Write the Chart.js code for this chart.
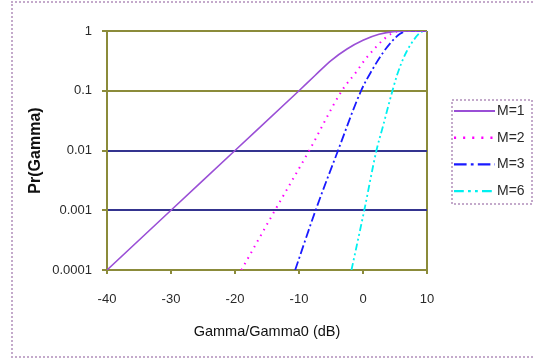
<!DOCTYPE html>
<html lang="en">
<head>
<meta charset="UTF-8" />
<title>Pr(Gamma)</title>
<script src="https://cdn.jsdelivr.net/npm/chart.js@4.4.1/dist/chart.umd.min.js"></script>
<style>
  html, body { margin: 0; padding: 0; background: #fff; }
  #wrap { position: relative; width: 534px; height: 362px; overflow: hidden; }
  #frame {
    position: absolute; left: 11px; top: 1px; width: 540px; height: 353px;
    border: 2px dotted #c4aacb; border-right: none; pointer-events: none;
  }
</style>
</head>
<body>
<div id="wrap">
  <canvas id="chart" width="534" height="362"></canvas>
  <div id="frame"></div>
</div>
<script>
// values (x in dB, y = probability)
const dbM1 = [-40, -30, -20, -10, -7.5, -5, -2.5, 0, 2.5, 5, 7.5, 10];
const prM1 = [0.0001, 0.001, 0.01, 0.1, 0.18, 0.32, 0.5, 0.7, 0.88, 0.98, 1, 1];

const dbM2 = [-19, -13.75, -8.4, -3.3, -1, 0.3, 1.9, 3.2, 4.7, 6, 10];
const prM2 = [0.0001, 0.001, 0.01, 0.1, 0.21, 0.33, 0.52, 0.72, 0.93, 1, 1];

const dbM3 = [-10.6, -7.4, -3.9, -0.3, 1.4, 3.1, 4.4, 5.8, 7, 10];
const prM3 = [0.0001, 0.001, 0.01, 0.1, 0.22, 0.43, 0.65, 0.9, 1, 1];

const dbM6 = [-1.8, 0.2, 2.1, 3.1, 4.6, 5.3, 6.0, 6.8, 7.9, 8.9, 9.7, 10];
const prM6 = [0.0001, 0.001, 0.01, 0.025, 0.1, 0.18, 0.29, 0.45, 0.7, 0.93, 1, 1];

const seriesLabels = ["M=1", "M=2", "M=3", "M=6"];
const yTicks = [0.0001, 0.001, 0.01, 0.1, 1];
const yTickLabels = ["0.0001", "0.001", "0.01", "0.1", "1"];
const xTicks = [-40, -30, -20, -10, 0, 10];

const olive = "#8b8b3a";
const navy = "#34348f";
const textCol = "#2a2a2a";

function toPoints(xs, ys) {
  return xs.map((x, i) => ({ x: x, y: ys[i] }));
}

const styles = [
  { color: "#9a4fd6", dash: [], width: 1.6 },
  { color: "#ff00ff", dash: [1.5, 5], width: 2 },
  { color: "#1a1aff", dash: [9, 3, 2, 3], width: 1.8 },
  { color: "#00f0f0", dash: [7, 3, 2, 3, 2, 3], width: 1.8 },
];
const allX = [dbM1, dbM2, dbM3, dbM6];
const allY = [prM1, prM2, prM3, prM6];

const datasets = seriesLabels.map((label, i) => ({
  label: label,
  data: toPoints(allX[i], allY[i]),
  borderColor: styles[i].color,
  borderDash: styles[i].dash,
  borderWidth: styles[i].width,
  pointRadius: 0,
  fill: false,
  cubicInterpolationMode: "monotone",
}));

// legend box on the right, drawn like the old spreadsheet one
const legendBox = {
  id: "legendBox",
  afterDraw(chart) {
    const c = chart.ctx;
    c.save();
    c.setLineDash([2, 2]);
    c.strokeStyle = "#c4aacb";
    c.lineWidth = 2;
    c.strokeRect(452, 100, 80, 104);
    chart.data.datasets.forEach((ds, i) => {
      const y = 111 + i * 26.7;
      c.setLineDash(ds.borderDash.map((d) => d * 1.4));
      c.strokeStyle = ds.borderColor;
      c.lineWidth = ds.borderWidth + 0.6;
      c.beginPath();
      c.moveTo(454, y);
      c.lineTo(495, y);
      c.stroke();
      c.setLineDash([]);
      c.fillStyle = textCol;
      c.font = '14px "Liberation Sans", Arial, sans-serif';
      c.textBaseline = "middle";
      c.fillText(ds.label, 497, y);
    });
    c.restore();
  },
};

const font = '"Liberation Sans", Arial, sans-serif';

new Chart(document.getElementById("chart"), {
  type: "line",
  data: { datasets: datasets },
  options: {
    responsive: false,
    animation: false,
    layout: { padding: { left: 0, right: 107, top: 31, bottom: 0 } },
    plugins: { legend: { display: false }, tooltip: { enabled: false } },
    scales: {
      x: {
        type: "linear",
        min: -40,
        max: 10,
        afterBuildTicks: (s) => { s.ticks = xTicks.map((v) => ({ value: v })); },
        afterFit: (s) => { s.height = 92; },
        ticks: {
          padding: 18,
          color: textCol,
          font: { family: font, size: 13 },
          maxRotation: 0,
        },
        grid: {
          color: (c) => (c.tick && c.tick.value === 10 ? olive : "transparent"),
          tickColor: olive,
          tickLength: 4,
          lineWidth: 2,
        },
        border: { color: olive, width: 2 },
        title: {
          display: true,
          text: "Gamma/Gamma0 (dB)",
          color: "#111",
          font: { family: font, size: 14.5 },
          padding: { top: 0, bottom: 21 },
        },
      },
      y: {
        type: "logarithmic",
        min: 0.0001,
        max: 1,
        afterBuildTicks: (s) => { s.ticks = yTicks.map((v) => ({ value: v })); },
        afterFit: (s) => { s.width = 107; },
        ticks: {
          padding: 10,
          color: textCol,
          font: { family: font, size: 13 },
          callback: (v) => yTickLabels[yTicks.findIndex((t) => Math.abs(t - v) < t * 1e-6)],
        },
        grid: {
          color: (c) => {
            const v = c.tick ? c.tick.value : 0;
            return v > 0.0005 && v < 0.05 ? navy : olive;
          },
          tickColor: olive,
          tickLength: 5,
          lineWidth: 2,
        },
        border: { color: olive, width: 2 },
        title: {
          display: true,
          text: "Pr(Gamma)",
          color: "#111",
          font: { family: font, size: 16, weight: "bold" },
          padding: { top: 26, bottom: 0 },
        },
      },
    },
  },
  plugins: [legendBox],
});
</script>
</body>
</html>
